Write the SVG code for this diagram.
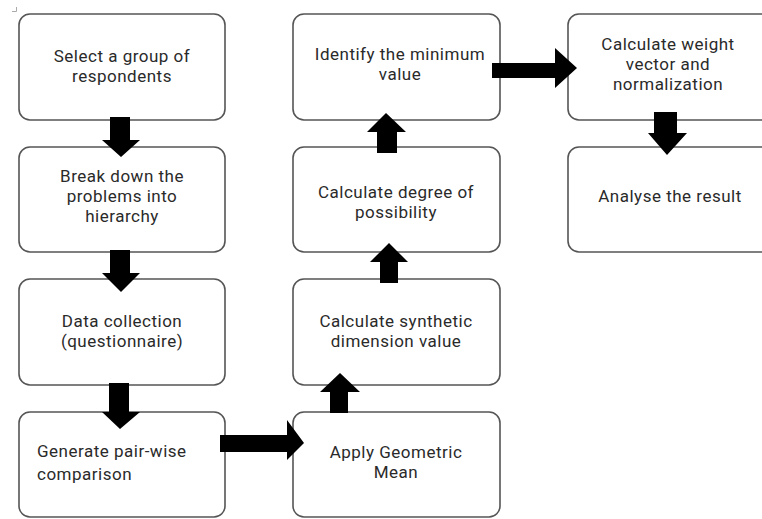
<svg xmlns="http://www.w3.org/2000/svg" width="762" height="519" viewBox="0 0 762 519">
<style>
.box{fill:#fff;stroke:#555;stroke-width:1.6}
.t{font-family:Roboto,"Open Sans",sans-serif;font-size:17px;letter-spacing:0.5px;fill:#2a2a2a;text-anchor:middle}
.l{text-anchor:start}
.arr{fill:#000}
</style>
<rect width="762" height="519" fill="#fff"/>
<path d="M12 11.5H16.5V7" fill="none" stroke="#aaa" stroke-width="1"/>
<g id="n1"><rect class="box" x="19" y="14" width="206" height="106" rx="11"/><text class="t" x="122" y="61.5">Select a group of</text><text class="t" x="122" y="81.5">respondents</text></g>
<g id="n2"><rect class="box" x="19" y="147" width="206" height="105" rx="11"/><text class="t" x="122" y="182">Break down the</text><text class="t" x="122" y="202">problems into</text><text class="t" x="122" y="222">hierarchy</text></g>
<g id="n3"><rect class="box" x="19" y="279" width="206" height="106" rx="11"/><text class="t" x="122" y="326.5">Data collection</text><text class="t" x="122" y="346.5">(questionnaire)</text></g>
<g id="n4"><rect class="box" x="19" y="412" width="206" height="105" rx="11"/><text class="t l" x="37" y="457">Generate pair-wise</text><text class="t l" x="37" y="480">comparison</text></g>
<g id="n5"><rect class="box" x="293" y="412" width="207" height="105" rx="11"/><text class="t" x="396" y="458">Apply Geometric</text><text class="t" x="396" y="478">Mean</text></g>
<g id="n6"><rect class="box" x="293" y="279" width="207" height="106" rx="11"/><text class="t" x="396" y="326.5">Calculate synthetic</text><text class="t" x="396" y="346.5">dimension value</text></g>
<g id="n7"><rect class="box" x="293" y="147" width="207" height="105" rx="11"/><text class="t" x="396" y="197.5">Calculate degree of</text><text class="t" x="396" y="217.5">possibility</text></g>
<g id="n8"><rect class="box" x="293" y="14" width="207" height="106" rx="11"/><text class="t" x="400" y="59.5">Identify the minimum</text><text class="t" x="400" y="79.5">value</text></g>
<g id="n9"><rect class="box" x="568" y="14" width="210" height="106" rx="11"/><text class="t" x="668" y="50">Calculate weight</text><text class="t" x="668" y="70">vector and</text><text class="t" x="668" y="90">normalization</text></g>
<g id="n10"><rect class="box" x="568" y="147" width="210" height="105" rx="11"/><text class="t" x="670" y="202">Analyse the result</text></g>
<g id="connectors">
<path class="arr" d="M110 117H130V140H140L121 157L102 140H110Z"/>
<path class="arr" d="M110 250H130V273H140L121 292L102 273H110Z"/>
<path class="arr" d="M109 383H129V412H140L120 429L102 412H109Z"/>
<path class="arr" d="M220 435H287V420L304 443L287 460V452H220Z"/>
<path class="arr" d="M330 413V392H320L340 373L360 392H348V413Z"/>
<path class="arr" d="M380 283V262H370L389 243L408 262H398V283Z"/>
<path class="arr" d="M377 153V132H367L386 113L406 132H397V153Z"/>
<path class="arr" d="M492 63H555V48L577 68L555 88V78H492Z"/>
<path class="arr" d="M654 112H677V133H687L667 155L648 133H654Z"/>
</g>
</svg>
